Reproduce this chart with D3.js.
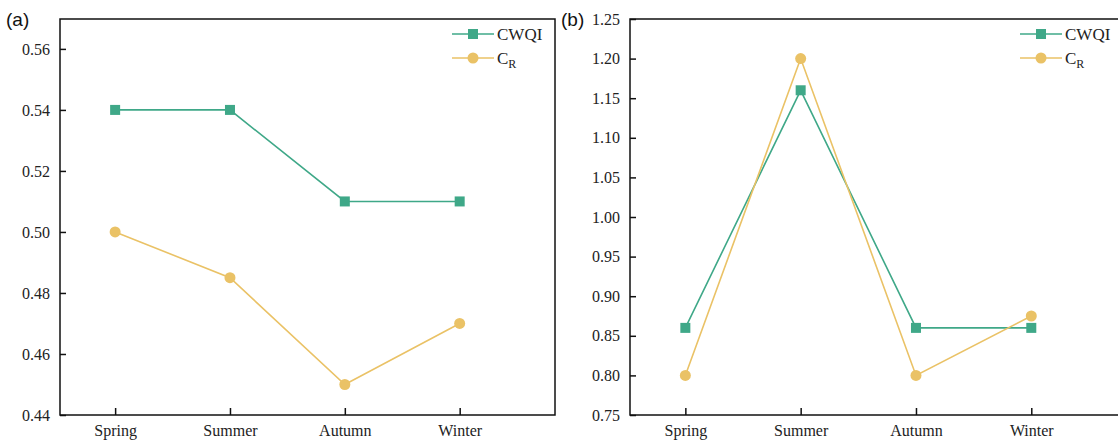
<!DOCTYPE html>
<html lang="en">
<head>
<meta charset="UTF-8">
<title>CWQI and CR by season</title>
<script src="https://cdn.jsdelivr.net/npm/d3@7"></script>
<style>
  body { margin: 0; background: #fff; }
  .axis path, .axis line { stroke: #111; stroke-width: 1.5; }
</style>
</head>
<body>
<div id="chart"></div>
<script>
var seasons = ['Spring', 'Summer', 'Autumn', 'Winter'];
var cwqiA = [0.54, 0.54, 0.51, 0.51];
var crA = [0.50, 0.485, 0.45, 0.47];
var cwqiB = [0.86, 1.16, 0.86, 0.86];
var crB = [0.80, 1.20, 0.80, 0.875];
var ticksA = [0.44, 0.46, 0.48, 0.50, 0.52, 0.54, 0.56];
var ticksB = [0.75, 0.80, 0.85, 0.90, 0.95, 1.00, 1.05, 1.10, 1.15, 1.20, 1.25];

var width = 1118, height = 441;
var green = '#3fa888', yellow = '#eac266';
var serif = '"Liberation Serif", "Times New Roman", serif';

var svg = d3.select('#chart').append('svg')
    .attr('width', width).attr('height', height);

function panel(opts) {
  var g = svg.append('g');
  var x = d3.scaleLinear().domain([0.52, 4.83]).range([opts.left, opts.right]);
  var y = d3.scaleLinear().domain(opts.yDomain).range([415, 19]);

  // frame
  g.append('rect')
    .attr('x', opts.left).attr('y', 19)
    .attr('width', opts.right - opts.left).attr('height', 396)
    .attr('fill', 'none').attr('stroke', '#111').attr('stroke-width', 1.5);

  var yAxis = d3.axisLeft(y).tickValues(opts.ticks).tickSize(-6).tickPadding(10)
      .tickFormat(d3.format('.2f'));
  g.append('g').attr('class', 'axis')
    .attr('transform', 'translate(' + opts.left + ',0)')
    .call(yAxis)
    .attr('font-family', serif).attr('font-size', 16)
    .call(function(s) {
      s.select('.domain').remove();
      s.selectAll('text').attr('fill', '#222');
    });

  var xAxis = d3.axisBottom(x).tickValues([1, 2, 3, 4]).tickSize(-7).tickPadding(10)
      .tickFormat(function(d) { return seasons[d - 1]; });
  g.append('g').attr('class', 'axis')
    .attr('transform', 'translate(0,415)')
    .call(xAxis)
    .attr('font-family', serif).attr('font-size', 16)
    .call(function(s) {
      s.select('.domain').remove();
      s.selectAll('text').attr('fill', '#222');
    });

  var line = d3.line()
    .x(function(d, i) { return x(i + 1); })
    .y(function(d) { return y(d); });

  g.append('path').datum(opts.cwqi)
    .attr('d', line).attr('fill', 'none').attr('stroke', green).attr('stroke-width', 1.6);
  g.append('path').datum(opts.cr)
    .attr('d', line).attr('fill', 'none').attr('stroke', yellow).attr('stroke-width', 1.6);

  g.selectAll('.sq').data(opts.cwqi).enter().append('rect')
    .attr('x', function(d, i) { return x(i + 1) - 5; })
    .attr('y', function(d) { return y(d) - 5; })
    .attr('width', 10).attr('height', 10)
    .attr('fill', green);
  g.selectAll('.dot').data(opts.cr).enter().append('circle')
    .attr('cx', function(d, i) { return x(i + 1); })
    .attr('cy', function(d) { return y(d); })
    .attr('r', 5.5)
    .attr('fill', yellow);

  // legend
  var lx = opts.legendX;
  var items = [{ c: green, sq: true, y: 34 }, { c: yellow, sq: false, y: 58 }];
  items.forEach(function(it) {
    g.append('line').attr('x1', lx).attr('x2', lx + 42)
      .attr('y1', it.y).attr('y2', it.y)
      .attr('stroke', it.c).attr('stroke-width', 1.6);
    if (it.sq) {
      g.append('rect').attr('x', lx + 16).attr('y', it.y - 5)
        .attr('width', 10).attr('height', 10).attr('fill', it.c);
    } else {
      g.append('circle').attr('cx', lx + 21).attr('cy', it.y).attr('r', 5.5).attr('fill', it.c);
    }
  });
  g.append('text').attr('x', lx + 45).attr('y', 40)
    .attr('font-family', serif).attr('font-size', 17).attr('fill', '#222').text('CWQI');
  var cr = g.append('text').attr('x', lx + 45).attr('y', 64)
    .attr('font-family', serif).attr('font-size', 17).attr('fill', '#222');
  cr.append('tspan').text('C');
  cr.append('tspan').attr('font-size', 12).attr('dy', 4).text('R');

  g.append('text').attr('x', opts.labelX).attr('y', 26)
    .attr('font-family', '"Liberation Sans", Arial, sans-serif').attr('font-size', 19)
    .attr('fill', '#111').text(opts.label);
}

panel({ left: 60, right: 555, yDomain: [0.44, 0.5698], ticks: ticksA,
        cwqi: cwqiA, cr: crA, legendX: 452, labelX: 6, label: '(a)' });
panel({ left: 630, right: 1127, yDomain: [0.75, 1.25], ticks: ticksB,
        cwqi: cwqiB, cr: crB, legendX: 1020, labelX: 561, label: '(b)' });
</script>
</body>
</html>
